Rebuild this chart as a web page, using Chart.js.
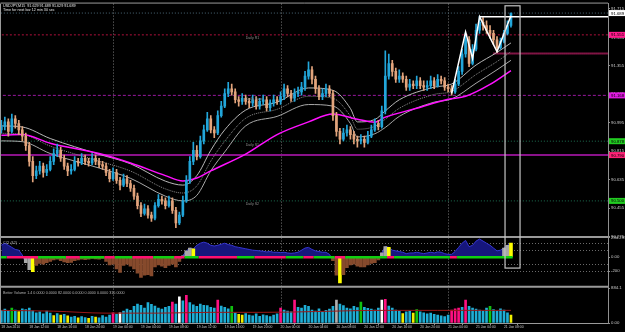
<!DOCTYPE html>
<html><head><meta charset="utf-8">
<script src="https://cdn.jsdelivr.net/npm/chart.js@4.4.1/dist/chart.umd.min.js"></script>
<style>html,body{margin:0;padding:0;background:#000;overflow:hidden}canvas{display:block}</style>
</head><body>
<canvas id="c" width="625" height="332"></canvas>
<script>
// ---------- DATA (30-minute bars, 18 Jan 2010 08:00 .. 21 Jan 2010 09:00) ----------
const openP = [
90.95,90.97,91.00,90.94,91.02,90.99,90.95,90.91,90.85,90.75,
90.66,90.69,90.72,90.68,90.70,90.75,90.80,90.82,90.77,90.72,
90.69,90.70,90.75,90.74,90.77,90.75,90.74,90.77,90.75,90.73,
90.72,90.68,90.64,90.68,90.63,90.60,90.64,90.61,90.58,90.53,
90.47,90.42,90.45,90.41,90.39,90.47,90.51,90.50,90.47,90.50,
90.44,90.36,90.41,90.50,90.63,90.75,90.82,90.78,90.88,90.95,
91.02,90.95,90.93,91.04,91.10,91.18,91.21,91.19,91.14,91.13,
91.15,91.13,91.12,91.14,91.10,91.13,91.14,91.09,91.12,91.14,
91.13,91.16,91.21,91.18,91.15,91.18,91.19,91.22,91.29,91.33,
91.27,91.21,91.16,91.18,91.21,91.18,91.04,90.94,90.89,90.93,
90.95,90.92,90.89,90.88,90.89,90.87,90.91,90.95,90.99,90.97,
91.07,91.29,91.37,91.32,91.27,91.29,91.27,91.22,91.24,91.23,
91.26,91.23,91.22,91.23,91.26,91.23,91.27,91.26,91.22,91.21,
91.19,91.24,91.32,91.43,91.52,91.37,91.46,91.58,91.63,91.61,
91.58,91.56,91.52,91.47,91.51,91.56,91.61];
const highP = [
91.01,91.03,91.02,91.05,91.04,91.01,90.97,90.93,90.87,90.78,
90.72,90.75,90.74,90.73,90.78,90.83,90.86,90.84,90.79,90.74,
90.73,90.78,90.77,90.80,90.79,90.77,90.80,90.79,90.77,90.75,
90.74,90.70,90.71,90.70,90.65,90.67,90.66,90.63,90.60,90.55,
90.49,90.48,90.47,90.43,90.49,90.54,90.53,90.52,90.53,90.52,
90.46,90.43,90.53,90.66,90.78,90.87,90.85,90.91,90.98,91.06,
91.04,90.97,91.07,91.13,91.21,91.25,91.24,91.21,91.16,91.18,
91.17,91.15,91.17,91.16,91.15,91.17,91.16,91.14,91.17,91.16,
91.19,91.24,91.23,91.20,91.21,91.22,91.25,91.32,91.38,91.35,
91.29,91.23,91.21,91.24,91.23,91.20,91.06,90.96,90.96,90.98,
90.97,90.94,90.91,90.92,90.91,90.94,90.98,91.02,91.01,91.10,
91.45,91.43,91.39,91.34,91.33,91.31,91.29,91.27,91.26,91.29,
91.28,91.26,91.26,91.29,91.28,91.30,91.29,91.28,91.24,91.23,
91.27,91.35,91.46,91.56,91.54,91.49,91.62,91.67,91.66,91.64,
91.61,91.58,91.54,91.53,91.58,91.64,91.689];
const lowP = [
90.93,90.95,90.91,90.93,90.96,90.92,90.88,90.82,90.72,90.62,
90.64,90.67,90.65,90.66,90.69,90.73,90.78,90.75,90.70,90.66,
90.67,90.69,90.72,90.73,90.73,90.72,90.73,90.73,90.71,90.70,
90.66,90.62,90.63,90.61,90.57,90.59,90.59,90.56,90.51,90.45,
90.40,90.41,90.39,90.37,90.38,90.46,90.48,90.45,90.46,90.42,
90.33,90.35,90.40,90.49,90.61,90.73,90.76,90.77,90.86,90.94,
90.93,90.90,90.92,91.03,91.09,91.16,91.17,91.12,91.10,91.11,
91.11,91.09,91.10,91.08,91.08,91.11,91.07,91.07,91.10,91.11,
91.11,91.14,91.16,91.13,91.13,91.16,91.17,91.20,91.27,91.24,
91.18,91.14,91.14,91.16,91.16,91.01,90.91,90.86,90.88,90.91,
90.89,90.86,90.84,90.86,90.84,90.86,90.90,90.94,90.95,90.96,
91.05,91.27,91.29,91.25,91.25,91.25,91.20,91.20,91.21,91.21,
91.21,91.20,91.20,91.21,91.21,91.22,91.24,91.20,91.19,91.17,
91.18,91.23,91.30,91.41,91.35,91.36,91.45,91.56,91.58,91.56,
91.53,91.49,91.44,91.46,91.50,91.55,91.60];
const closeP = [
90.97,91.00,90.94,91.02,90.99,90.95,90.91,90.85,90.75,90.66,
90.69,90.72,90.68,90.70,90.75,90.80,90.82,90.77,90.72,90.69,
90.70,90.75,90.74,90.77,90.75,90.74,90.77,90.75,90.73,90.72,
90.68,90.64,90.68,90.63,90.60,90.64,90.61,90.58,90.53,90.47,
90.42,90.45,90.41,90.39,90.47,90.51,90.50,90.47,90.50,90.44,
90.36,90.41,90.50,90.63,90.75,90.82,90.78,90.88,90.95,91.02,
90.95,90.93,91.04,91.10,91.18,91.21,91.19,91.14,91.13,91.15,
91.13,91.12,91.14,91.10,91.13,91.14,91.09,91.12,91.14,91.13,
91.16,91.21,91.18,91.15,91.18,91.19,91.22,91.29,91.33,91.27,
91.21,91.16,91.18,91.21,91.18,91.04,90.94,90.89,90.93,90.95,
90.92,90.89,90.88,90.89,90.87,90.91,90.95,90.99,90.97,91.07,
91.29,91.37,91.32,91.27,91.29,91.27,91.22,91.24,91.23,91.26,
91.23,91.22,91.23,91.26,91.23,91.27,91.26,91.22,91.21,91.19,
91.24,91.32,91.43,91.52,91.37,91.46,91.58,91.63,91.61,91.58,
91.56,91.52,91.47,91.51,91.56,91.61,91.689];

// moving averages: [bar index, price]
const maSlow = [[0,90.916],[6,90.92],[14,90.865],[28,90.80],[37,90.74],[47,90.66],[52,90.626],[56,90.645],[60,90.69],[70,90.796],[79,90.92],[88,91.00],[95,91.05],[102,91.017],[107,90.998],[110,91.03],[119,91.086],[128,91.143],[133,91.162],[140,91.237],[146,91.325]];
const maMid = [[0,90.928],[6,90.922],[14,90.847],[28,90.752],[37,90.689],[47,90.576],[52,90.550],[56,90.595],[60,90.752],[64,90.878],[70,91.023],[79,91.080],[88,91.162],[95,91.149],[100,91.036],[102,90.954],[107,90.972],[110,91.017],[114,91.086],[124,91.174],[129,91.193],[136,91.300],[142,91.382],[146,91.445]];
const maUp = [[0,90.975],[6,90.968],[14,90.895],[28,90.795],[37,90.735],[47,90.625],[52,90.600],[56,90.660],[60,90.820],[64,90.950],[70,91.075],[79,91.125],[88,91.215],[95,91.200],[100,91.085],[102,91.000],[107,91.015],[110,91.070],[114,91.140],[124,91.220],[129,91.240],[136,91.360],[142,91.440],[146,91.500]];
const maLow = [[0,90.880],[6,90.875],[14,90.800],[28,90.708],[37,90.643],[47,90.530],[52,90.500],[56,90.535],[60,90.690],[64,90.810],[70,90.975],[79,91.035],[88,91.110],[95,91.100],[100,90.990],[102,90.905],[107,90.925],[110,90.965],[114,91.035],[124,91.125],[129,91.145],[136,91.245],[142,91.330],[146,91.390]];
const zigzag = [[129,91.18],[133,91.57],[135,91.40],[137,91.666],[142,91.445],[146,91.672]];

// horizontal levels
const levelNames  = ['Daily R1','Daily Pivot','Daily S1','Daily S2'];
const levelValues = [91.551, 91.168, 90.878, 90.500];
const purpleLevel = 90.790;
const pinkLevel = 91.433, pinkFrom = 141;
const topLevel = 91.666, topFrom = 137;
const bidPrice = 91.689;

// CCI(42)
const cci = [
170,200,170,140,110,100,30,-80,-180,-210,
-120,-90,-100,-80,-60,-40,-30,-50,-70,-80,
-75,-50,-40,-30,-35,-30,-20,-25,-30,-20,
-60,-110,-100,-170,-220,-120,-100,-130,-170,-230,
-290,-260,-250,-270,-140,-110,-130,-150,-120,-100,
-140,-60,20,90,130,120,170,200,215,200,
170,160,170,185,200,180,170,150,140,130,
120,110,100,95,90,85,75,80,70,70,
65,70,60,55,60,70,100,130,140,110,
90,80,70,70,40,-50,-260,-370,-250,-150,
-110,-100,-130,-140,-140,-110,-90,-80,-40,60,
150,140,100,90,80,70,50,60,60,70,
60,50,60,70,60,75,70,50,40,40,
80,140,200,240,150,170,230,260,230,200,
170,130,90,100,130,170,200];
const cciGray = [7,8,52,53,54,109,110,144,145];
const cciYellow = [9,55,97,111,146];
const cciUpRuns = [[0,1],[11,18],[23,29],[33,37],[44,49],[53,56],[68,72],[82,86],[90,95],[99,110],[113,128],[131,146]];
const cciDownRuns = [[2,10],[19,22],[30,32],[38,43],[50,52],[57,67],[73,81],[87,89],[96,98],[111,112],[129,130]];
const cciLevels = [200,100,-100,-200];
const cciTicks = [284.299,100,0,-100,-200,-416.647];
const cciTickLabels = ['284.299','100','0.00','-100','-200','-416.647'];

// Better Volume
const volume = [
320,350,300,380,330,290,360,340,380,310,
260,280,230,300,250,190,240,200,220,180,
150,170,130,160,140,120,170,150,130,190,
150,200,260,220,260,300,350,320,420,480,
450,380,520,470,430,380,350,400,420,530,
480,660,560,700,520,460,420,480,450,440,
400,380,580,430,400,360,420,260,220,200,
240,200,180,230,170,210,190,160,200,230,
380,330,300,280,580,400,380,450,420,330,
300,360,280,320,350,420,580,480,440,380,
360,420,390,530,400,370,350,330,380,580,
600,430,380,330,300,240,280,300,250,340,
280,260,230,250,220,200,180,160,200,330,
360,380,400,580,420,380,350,330,300,380,
420,340,300,360,330,260,200];
const volYellow = [5,15,17,19,22,25,27,68,69,115,118,146];
const volGreen = [3,66,103,119,140];
const volMagenta = [32,49,53,62,80,84,110,129,130,131,133];
const volWhite = [34,51,109];
const volGray = [96];
const volMa = [[0,320],[15,300],[30,250],[45,250],[60,270],[75,270],[90,290],[100,310],[110,320],[125,320],[146,320]];
const volTicks = [884.1, 0];
const volTickLabels = ['884.1','0.00'];

// axes
const priceTickLabels = ['90.275','90.365','90.455','90.545','90.635','90.725','90.815','90.905','90.995','91.085','91.175','91.265','91.355','91.445','91.535','91.625','91.715'];
const tickSlots  = [0,8,16,24,32,40,48,56,64,72,80,88,96,104,112,120,128,136,144];
const tickLabels = ['18 Jan 2010','18 Jan 12:00','18 Jan 16:00','18 Jan 20:00','19 Jan 00:00','19 Jan 04:00','19 Jan 08:00','19 Jan 12:00','19 Jan 16:00','19 Jan 20:00','20 Jan 00:00','20 Jan 04:00','20 Jan 08:00','20 Jan 12:00','20 Jan 16:00','20 Jan 20:00','21 Jan 00:00','21 Jan 04:00','21 Jan 08:00'];
const daySlots = [32,80,128];
const boxSlots = [144.3,148.6], boxTop = 91.735, boxBottomCci = -157;

// ---------- build ----------
const pts = a => a.map(p => ({x:p[0], y:p[1]}));
const hline = (v, from, to) => [{x:from, y:v},{x:to, y:v}];
const runsToPts = runs => { const out=[]; runs.forEach(r=>{ out.push({x:r[0]-0.5,y:0},{x:r[1]+0.5,y:0},{x:r[1]+0.5,y:null}); }); return out; };
const BULL='#22a6da', BEAR='#e2a47c';
const isBull = i => closeP[i] >= openP[i];
const FONT = '"Liberation Sans", Arial, sans-serif';

const datasets = [
  {type:'line', data:hline(levelValues[0],-1,175), borderColor:'#b0103c', borderWidth:1, borderDash:[2,2], pointRadius:0, order:20},
  {type:'line', data:hline(levelValues[1],-1,175), borderColor:'#9a18a0', borderWidth:1, borderDash:[3,2], pointRadius:0, order:20},
  {type:'line', data:hline(levelValues[2],-1,175), borderColor:'#1d7052', borderWidth:1, borderDash:[1,2], pointRadius:0, order:20},
  {type:'line', data:hline(levelValues[3],-1,175), borderColor:'#1d7052', borderWidth:1, borderDash:[1,2], pointRadius:0, order:20},
  {type:'line', data:hline(purpleLevel,-1,175), borderColor:'#8a128a', borderWidth:2, pointRadius:0, order:20},
  {type:'line', data:hline(bidPrice,-1,175), borderColor:'#4a6878', borderWidth:1, borderDash:[1,2], pointRadius:0, order:20},
  {type:'line', data:hline(pinkLevel,pinkFrom,175), borderColor:'#ff2a88', borderWidth:2, borderDash:[1,1], pointRadius:0, order:20},
  {type:'line', data:pts(maSlow), borderColor:'#ff10ff', borderWidth:1.5, pointRadius:0, cubicInterpolationMode:'monotone', order:10},
  {type:'line', data:pts(maUp), borderColor:'#b8b8b8', borderWidth:1, pointRadius:0, cubicInterpolationMode:'monotone', order:10},
  {type:'line', data:pts(maMid), borderColor:'#8c8c8c', borderWidth:1, borderDash:[1,1], pointRadius:0, cubicInterpolationMode:'monotone', order:10},
  {type:'line', data:pts(maLow), borderColor:'#a8a8a8', borderWidth:1, pointRadius:0, cubicInterpolationMode:'monotone', order:10},
  {type:'bar', data:highP.map((h,i)=>({x:i, y:[lowP[i], h]})), backgroundColor:c=>isBull(c.dataIndex)?BULL:BEAR, barThickness:1, grouped:false, order:6},
  {type:'bar', data:openP.map((o,i)=>({x:i, y:[o, closeP[i]]})), backgroundColor:c=>isBull(c.dataIndex)?BULL:BEAR, barThickness:2, minBarLength:1, grouped:false, order:5},
  {type:'line', data:pts(zigzag), borderColor:'#ffffff', borderWidth:1.5, pointRadius:0, order:1},
  {type:'line', data:hline(topLevel,topFrom,175), borderColor:'#ffffff', borderWidth:1.5, pointRadius:0, order:1},
  {type:'line', yAxisID:'yc', data:cci.map((v,i)=>({x:i,y:v})), borderWidth:1, pointRadius:0, order:4,
   fill:{target:{value:0}, above:'#16167c', below:'rgba(0,0,0,0)'},
   borderColor:'#3434d0', segment:{borderColor:s=>(s.p0.parsed.y>0||s.p1.parsed.y>0)?'#3434d0':'rgba(0,0,0,0)'}},
  {type:'bar', yAxisID:'yc', data:cci.map((v,i)=>({x:i,y:v})), barThickness:3, grouped:false, order:3,
   backgroundColor:c=>{const i=c.dataIndex; if(cciYellow.includes(i))return '#ffff00'; if(cciGray.includes(i))return '#a8a8a8'; return cci[i]<0?'#864a2c':'rgba(0,0,0,0)';}},
  {type:'line', yAxisID:'yc', data:runsToPts(cciUpRuns), borderColor:'#10d010', borderWidth:2.5, pointRadius:0, spanGaps:false, order:2},
  {type:'line', yAxisID:'yc', data:runsToPts(cciDownRuns), borderColor:'#ff1070', borderWidth:2.5, pointRadius:0, spanGaps:false, order:2},
  {type:'bar', yAxisID:'yv', data:volume.map((v,i)=>({x:i,y:v})), barThickness:2, grouped:false, order:3,
   backgroundColor:c=>{const i=c.dataIndex; if(volYellow.includes(i))return '#f0f000'; if(volGreen.includes(i))return '#10c010'; if(volMagenta.includes(i))return '#ff1080'; if(volWhite.includes(i))return '#ffffff'; if(volGray.includes(i))return '#b0b0b0'; return '#1eaed6';}},
  {type:'line', yAxisID:'yv', data:pts(volMa), borderColor:'#9a1818', borderWidth:1, pointRadius:0, cubicInterpolationMode:'monotone', order:1}
];

const tickFont = {size:4.3, family:FONT};
const yCommon = {
  position:'right', stack:'pane', offset:false,
  grid:{drawOnChartArea:false, tickLength:2, color:'#909090'},
  border:{display:true, color:'#909090'},
  afterFit:s=>{s.width=17;}
};

const chrome = {
  id:'chrome',
  beforeDraw(ch){ const c=ch.ctx; c.save(); c.fillStyle='#000'; c.fillRect(0,0,ch.width,ch.height); c.restore(); },
  beforeDatasetsDraw(ch){
    const c=ch.ctx, a=ch.chartArea, X=ch.scales.x, YC=ch.scales.yc;
    c.save(); c.strokeStyle='#7a7a7a'; c.lineWidth=1; c.setLineDash([1,2]);
    daySlots.forEach(d=>{const px=Math.round(X.getPixelForValue(d))+0.5; c.beginPath(); c.moveTo(px,a.top); c.lineTo(px,a.bottom); c.stroke();});
    c.strokeStyle='#6a6a6a';
    cciLevels.forEach(v=>{const py=Math.round(YC.getPixelForValue(v))+0.5; c.beginPath(); c.moveTo(a.left,py); c.lineTo(a.right,py); c.stroke();});
    c.restore();
  },
  afterDraw(ch){
    const c=ch.ctx, a=ch.chartArea, X=ch.scales.x, Y=ch.scales.y, YC=ch.scales.yc, YV=ch.scales.yv;
    c.save();
    c.strokeStyle='#9a9a9a'; c.lineWidth=1;
    c.beginPath(); c.moveTo(a.left-0.5,a.top-0.5); c.lineTo(a.right,a.top-0.5); c.moveTo(a.left-0.5,a.top); c.lineTo(a.left-0.5,a.bottom); c.stroke();
    c.lineWidth=2;
    [Y.bottom, YC.bottom].forEach(yy=>{c.beginPath(); c.moveTo(0,yy); c.lineTo(a.right,yy); c.stroke();});
    c.lineWidth=1;
    c.beginPath(); c.moveTo(0,YV.bottom+0.5); c.lineTo(a.right,YV.bottom+0.5); c.stroke();
    c.strokeStyle='#c4c4c4'; c.lineWidth=1.2;
    const bx0=X.getPixelForValue(boxSlots[0]), bx1=X.getPixelForValue(boxSlots[1]);
    const by0=Y.getPixelForValue(boxTop), by1=YC.getPixelForValue(boxBottomCci);
    c.strokeRect(bx0,by0,bx1-bx0,by1-by0);
    c.fillStyle='#8a8a8a'; c.font='3.6px '+FONT; c.textBaseline='alphabetic';
    levelNames.forEach((n,k)=>{ c.fillText(n, X.getPixelForValue(70), Y.getPixelForValue(levelValues[k])+4.5); });
    const tags=[[bidPrice,'#ffffff'],[levelValues[0],'#ff1a8c'],[levelValues[1],'#e01ae0'],[levelValues[2],'#22cc22'],[purpleLevel,'#ff2277'],[levelValues[3],'#22cc22']];
    c.font='4.3px '+FONT; c.textBaseline='middle';
    tags.forEach(t=>{const py=Y.getPixelForValue(t[0]); c.fillStyle=t[1]; c.fillRect(a.right+1,py-3,16,6); c.fillStyle='#000'; c.fillText(t[0].toFixed(3), a.right+3, py+0.3);});
    c.fillStyle='#e6e6e6'; c.font='3.7px '+FONT; c.textBaseline='alphabetic';
    c.fillText('USDJPY,M15  91.629 91.689 91.629 91.689', 3, 6.5);
    c.fillText('Time for next bar 12 min 30 sec', 3, 11);
    c.fillStyle='#b4b4b4';
    c.fillText('CCI (42)', 3, YC.top+7.5);
    c.fillText('Better Volume 1.4 0.0000 0.0000 82.0000 0.0000 0.0000 0.0000 310.0000', 3, YV.top+7.5);
    c.restore();
  }
};

new Chart(document.getElementById('c'), {
  type:'bar',
  data:{datasets},
  plugins:[chrome],
  options:{
    responsive:false, maintainAspectRatio:false, devicePixelRatio:1, animation:false, events:[],
    layout:{padding:{left:1, top:2, right:0, bottom:0}},
    plugins:{legend:{display:false}, tooltip:{enabled:false}},
    scales:{
      x:{type:'linear', min:-0.1, max:173.8, offset:false,
         grid:{display:true, drawOnChartArea:false, tickLength:2, color:'#909090'},
         border:{display:false},
         afterBuildTicks:s=>{s.ticks=tickSlots.map(v=>({value:v}));},
         ticks:{autoSkip:false, maxRotation:0, align:'start', color:'#c8c8c8', font:{size:3.4, family:FONT}, padding:0.5,
                callback:(v,i)=>tickLabels[i]},
         afterFit:s=>{s.height=9;}},
      y:Object.assign({}, yCommon, {stackWeight:234.5, min:90.272, max:91.749,
         afterBuildTicks:s=>{s.ticks=priceTickLabels.map(t=>({value:parseFloat(t)}));},
         ticks:{color:'#c8c8c8', font:tickFont, padding:1, callback:(v,i)=>priceTickLabels[i]}}),
      yc:Object.assign({}, yCommon, {stackWeight:50, min:-424, max:290,
         afterBuildTicks:s=>{s.ticks=cciTicks.map(v=>({value:v}));},
         ticks:{color:'#c8c8c8', font:tickFont, padding:1, callback:(v,i)=>cciTickLabels[i]}}),
      yv:Object.assign({}, yCommon, {stackWeight:36.5, min:0, max:920,
         afterBuildTicks:s=>{s.ticks=volTicks.map(v=>({value:v}));},
         ticks:{color:'#c8c8c8', font:tickFont, padding:1, callback:(v,i)=>volTickLabels[i]}})
    }
  }
});
</script>
</body></html>
